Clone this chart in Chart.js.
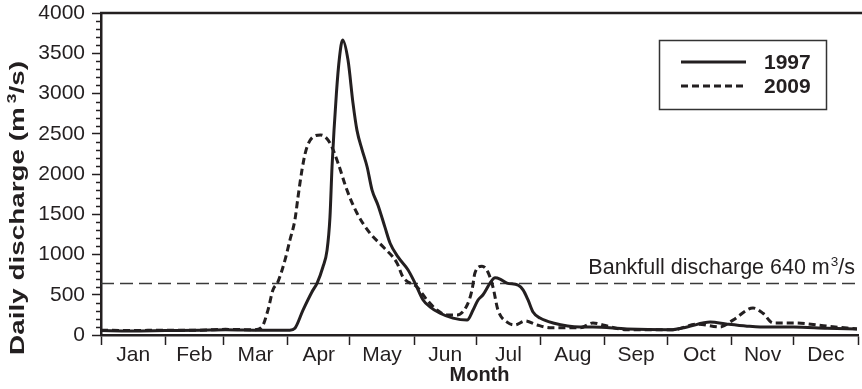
<!DOCTYPE html>
<html>
<head>
<meta charset="utf-8">
<script src="https://cdn.jsdelivr.net/npm/chart.js@4.4.1/dist/chart.umd.min.js"></script>
<style>
  html, body { margin: 0; padding: 0; background: #ffffff; }
  #wrap { width: 862px; height: 389px; position: relative; }
</style>
</head>
<body>
<div id="wrap"><canvas id="c" width="862" height="389"></canvas></div>
<script>
// Month labels and the day-of-year on which each month starts
const months = ['Jan','Feb','Mar','Apr','May','Jun','Jul','Aug','Sep','Oct','Nov','Dec'];
const monthStartDays = [0,31,59,90,120,151,181,212,243,273,304,334,365];

// Daily discharge, 1997 (day of year, m3/s)
const days1997 = [0,14,31,48,60,77,91,93.5,97.4,101.7,104.2,107,109,110.4,111.4,113.5,115,116.5,119.1,121.5,123.4,125.9,128.3,130.7,133.6,136.9,139.4,143.2,148,151.4,155.3,158.6,163.5,169.7,176.5,179.4,181.8,184.2,187.6,190,192.4,195.8,201.1,203.5,205.9,208.3,211.7,218,231,237.2,253.6,274.4,282.6,293.7,301.9,311.5,317.8,333.7,350.1,364.5];
const flow1997 = [55,50,55,60,65,58,60,85,310,535,645,845,1055,1465,2090,3000,3450,3665,3415,2880,2545,2300,2090,1800,1610,1340,1140,970,810,645,435,350,270,210,185,310,435,500,645,710,695,645,620,560,435,285,210,150,100,100,75,65,100,160,135,110,100,100,85,75];

// Daily discharge, 2009 (day of year, m3/s)
const days2009 = [0,14,31,48,60,74,77.6,80.5,82.9,85.3,88.7,91.1,93.5,95,96.9,98.9,102.2,105.9,110.4,114.3,118.6,123.4,129.7,136,142.7,145.6,152.4,157.2,162,166.8,171.7,176.5,178.9,180.3,183.7,186.6,189,191.4,195.8,199.6,204.5,210.2,216.5,231,237.2,242,253.6,275.8,287.4,298.5,304.7,314.4,319.2,324,333.7,350,364.5];
const flow2009 = [60,55,60,60,70,65,100,310,560,660,930,1180,1430,1715,2050,2300,2460,2485,2385,2135,1800,1515,1265,1095,895,720,595,435,310,250,250,370,560,770,855,780,595,310,160,125,175,125,90,90,150,125,65,65,135,100,185,335,270,150,150,110,75];

// Bankfull discharge threshold (m3/s)
const bankfull = 640;
const yTicks = [0,500,1000,1500,2000,2500,3000,3500,4000];

const INK = '#231f20';
const FONT = "'Liberation Sans', Arial, sans-serif";

const toPoints = (xs, ys) => xs.map((x, i) => ({ x: x, y: ys[i] }));
const monthMids = months.map((m, i) => (monthStartDays[i] + monthStartDays[i + 1]) / 2);

// Draws a run of text pieces (normal / superscript) left to right from x, baseline y
function drawRun(ctx, pieces, x, y) {
  let cx = x;
  pieces.forEach(p => {
    ctx.font = p.font;
    ctx.fillText(p.text, cx, y + (p.dy || 0));
    cx += ctx.measureText(p.text).width + (p.gap || 0);
  });
  return cx - x;
}
function runWidth(ctx, pieces) {
  let w = 0;
  pieces.forEach(p => { ctx.font = p.font; w += ctx.measureText(p.text).width + (p.gap || 0); });
  return w;
}

// Minor y ticks, frame line, axis title, legend box and bankfull label
const decorations = {
  id: 'decorations',
  beforeDraw(chart) {
    const ctx = chart.ctx;
    ctx.save();
    ctx.fillStyle = '#ffffff';
    ctx.fillRect(0, 0, chart.width, chart.height);
    ctx.restore();
  },
  afterDraw(chart) {
    const ctx = chart.ctx;
    const a = chart.chartArea;
    const y = chart.scales.y;
    ctx.save();
    // minor ticks every 100
    ctx.strokeStyle = INK;
    ctx.lineWidth = 1.5;
    for (let v = 100; v < 4000; v += 100) {
      if (v % 500 === 0) continue;
      const py = Math.round(y.getPixelForValue(v)) + 0.5;
      ctx.beginPath();
      ctx.moveTo(a.left - 5, py);
      ctx.lineTo(a.left, py);
      ctx.stroke();
    }
    // top frame line
    ctx.lineWidth = 2.5;
    ctx.beginPath();
    const ty = y.getPixelForValue(4000);
    ctx.moveTo(a.left - 1, ty);
    ctx.lineTo(chart.width, ty);
    ctx.stroke();

    // y axis title (rotated, wide lettering)
    ctx.fillStyle = INK;
    ctx.textAlign = 'left';
    ctx.textBaseline = 'alphabetic';
    const bold = `bold 21px ${FONT}`;
    const boldSup = `bold 13px ${FONT}`;
    const title = [
      { text: 'Daily discharge (m', font: bold, gap: 3 },
      { text: '3', font: boldSup, dy: -8 },
      { text: '/s)', font: bold }
    ];
    const tw = runWidth(ctx, title);
    const stretch = 294 / tw;
    ctx.save();
    ctx.translate(24, 208);
    ctx.rotate(-Math.PI / 2);
    ctx.scale(stretch, 1);
    drawRun(ctx, title, -tw / 2, 0);
    ctx.restore();

    // bankfull label
    const by = y.getPixelForValue(bankfull) - 9;
    const reg = `21.5px ${FONT}`;
    const sup = `13.5px ${FONT}`;
    const label = [
      { text: 'Bankfull discharge ' + bankfull + ' m', font: reg, gap: 1 },
      { text: '3', font: sup, dy: -8 },
      { text: '/s', font: reg }
    ];
    const lw0 = runWidth(ctx, label);
    drawRun(ctx, label, a.right - 3 - lw0, by);

    // legend
    const lx = 659, ly = 40, lw = 167, lh = 69;
    ctx.fillStyle = '#ffffff';
    ctx.fillRect(lx, ly, lw, lh);
    ctx.strokeStyle = '#333333';
    ctx.lineWidth = 1.5;
    ctx.strokeRect(lx + 0.5, ly + 0.5, lw, lh);
    const rows = chart.data.datasets.filter(d => d.inLegend);
    rows.forEach((d, i) => {
      const yy = ly + 22 + i * 24;
      ctx.strokeStyle = d.borderColor;
      ctx.lineWidth = d.borderWidth;
      ctx.setLineDash(d.borderDash || []);
      ctx.beginPath();
      ctx.moveTo(lx + 22, yy);
      ctx.lineTo(lx + 87, yy);
      ctx.stroke();
      ctx.setLineDash([]);
      ctx.fillStyle = INK;
      ctx.font = `bold 21px ${FONT}`;
      ctx.textBaseline = 'middle';
      ctx.fillText(d.label, lx + 105, yy + 1);
    });
    ctx.restore();
  }
};

new Chart(document.getElementById('c'), {
  type: 'line',
  data: {
    datasets: [
      {
        label: '1997', inLegend: true,
        data: toPoints(days1997, flow1997),
        borderColor: INK, borderWidth: 3, pointRadius: 0,
        cubicInterpolationMode: 'monotone', fill: false
      },
      {
        label: '2009', inLegend: true,
        data: toPoints(days2009, flow2009),
        borderColor: INK, borderWidth: 3, borderDash: [7, 4], pointRadius: 0,
        cubicInterpolationMode: 'monotone', fill: false
      },
      {
        label: 'Bankfull', inLegend: false,
        data: [{ x: 0, y: bankfull }, { x: 365, y: bankfull }],
        borderColor: '#3a3a3a', borderWidth: 1.5, borderDash: [13, 6], pointRadius: 0
      }
    ]
  },
  options: {
    responsive: false,
    animation: false,
    events: [],
    layout: { padding: { top: 13, right: 4, left: 0, bottom: 0 } },
    plugins: { legend: { display: false }, tooltip: { enabled: false } },
    scales: {
      x: {
        type: 'linear', min: 0, max: 365,
        afterBuildTicks(scale) {
          const t = monthStartDays.map(v => ({ value: v }));
          monthMids.forEach(v => t.push({ value: v }));
          t.sort((p, q) => p.value - q.value);
          scale.ticks = t;
        },
        afterFit(scale) { scale.height = 54; scale.paddingLeft = 0; scale.paddingRight = 0; },
        border: { display: true, color: INK, width: 2.5 },
        grid: {
          drawOnChartArea: false, drawTicks: true, tickLength: 10,
          tickWidth: 1.5,
          tickColor: ctx => (ctx.tick && monthStartDays.includes(ctx.tick.value)) ? INK : 'rgba(0,0,0,0)'
        },
        ticks: {
          autoSkip: false, maxRotation: 0, padding: -2,
          color: INK, font: { family: FONT, size: 21 },
          callback: (v) => {
            const i = monthMids.indexOf(v);
            return i >= 0 ? months[i] : '';
          }
        },
        title: {
          display: true, text: 'Month', color: INK,
          font: { family: FONT, size: 20, weight: 'bold' },
          padding: { top: 0, bottom: 2 }
        }
      },
      y: {
        type: 'linear', min: 0, max: 4000,
        afterBuildTicks(scale) { scale.ticks = yTicks.map(v => ({ value: v })); },
        afterFit(scale) { scale.width = 101; scale.paddingTop = 0; scale.paddingBottom = 0; },
        border: { display: true, color: INK, width: 2.5 },
        grid: { drawOnChartArea: false, drawTicks: true, tickLength: 9, tickWidth: 1.5, tickColor: INK },
        ticks: { padding: 7, color: INK, font: { family: FONT, size: 21 }, callback: v => String(v) },
        title: { display: false }
      }
    }
  },
  plugins: [decorations]
});
</script>
</body>
</html>
